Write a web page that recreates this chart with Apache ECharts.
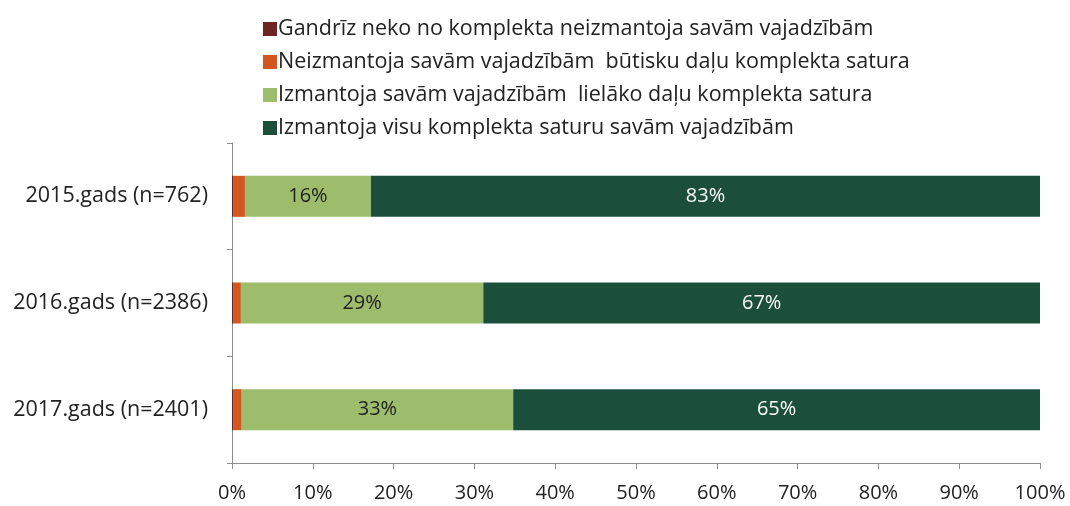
<!DOCTYPE html>
<html>
<head>
<meta charset="utf-8">
<script src="https://cdn.jsdelivr.net/npm/echarts@6/dist/echarts.min.js"></script>
<style>
  html, body { margin: 0; padding: 0; background: #fff; }
  #chart { width: 1070px; height: 506px; }
</style>
</head>
<body>
<div id="chart"></div>
<script>
const categories = ['2015.gads (n=762)', '2016.gads (n=2386)', '2017.gads (n=2401)']
const seriesNames = [
  'Gandrīz neko no komplekta neizmantoja savām vajadzībām',
  'Neizmantoja savām vajadzībām  būtisku daļu komplekta satura',
  'Izmantoja savām vajadzībām  lielāko daļu komplekta satura',
  'Izmantoja visu komplekta saturu savām vajadzībām',
]
// values (percent)
const almostNothing = [0.2, 0.2, 0.2]
const notEssential = [1.4, 0.9, 1.0]
const mostContent = [15.6, 30.0, 33.6]
const allContent = [82.8, 68.9, 65.2]
// printed labels on the bars
const mostLabels = ['16%', '29%', '33%']
const allLabels = ['83%', '67%', '65%']
const xTicks = [0, 10, 20, 30, 40, 50, 60, 70, 80, 90, 100]

const colors = ['#6e2421', '#d4561f', '#9dbd6c', '#1b4f3c']
const font = '"Open Sans", sans-serif'

const chart = echarts.init(document.getElementById('chart'), null, { renderer: 'canvas' })

function bar(name, data, color, labels, labelColor) {
  return {
    name,
    type: 'bar',
    stack: 'total',
    barWidth: 41,
    data,
    itemStyle: { color },
    label: labels
      ? {
          show: true,
          position: 'inside',
          color: labelColor,
          fontSize: 20,
          fontFamily: font,
          formatter: p => labels[p.dataIndex],
        }
      : { show: false },
  }
}

chart.setOption({
  animation: false,
  backgroundColor: '#fff',
  color: colors,
  legend: {
    orient: 'vertical',
    left: 258,
    top: 10,
    itemWidth: 14,
    itemHeight: 14,
    itemGap: 5,
    icon: 'rect',
    textStyle: { fontSize: 21.5, lineHeight: 28, color: '#222', fontFamily: font, padding: [0, 0, 0, -4] },
    data: seriesNames,
  },
  grid: { left: 232, right: 30, top: 143, bottom: 43 },
  xAxis: {
    type: 'value',
    min: 0,
    max: 100,
    interval: 10,
    axisLine: { show: true, lineStyle: { color: '#8c8c8c' } },
    axisTick: { show: true, length: 6, lineStyle: { color: '#8c8c8c' } },
    splitLine: { show: false },
    axisLabel: {
      color: '#222',
      fontSize: 20,
      fontFamily: font,
      margin: 20,
      formatter: v => (xTicks.includes(v) ? v + '%' : ''),
    },
  },
  yAxis: {
    type: 'category',
    inverse: true,
    data: categories,
    axisLine: { show: true, lineStyle: { color: '#8c8c8c' } },
    axisTick: { show: true, length: 5, lineStyle: { color: '#8c8c8c' } },
    axisLabel: { color: '#222', fontSize: 21.5, fontFamily: font, margin: 24 },
  },
  series: [
    bar(seriesNames[0], almostNothing, colors[0]),
    bar(seriesNames[1], notEssential, colors[1]),
    bar(seriesNames[2], mostContent, colors[2], mostLabels, '#222'),
    bar(seriesNames[3], allContent, colors[3], allLabels, '#fff'),
  ],
})
</script>
</body>
</html>
